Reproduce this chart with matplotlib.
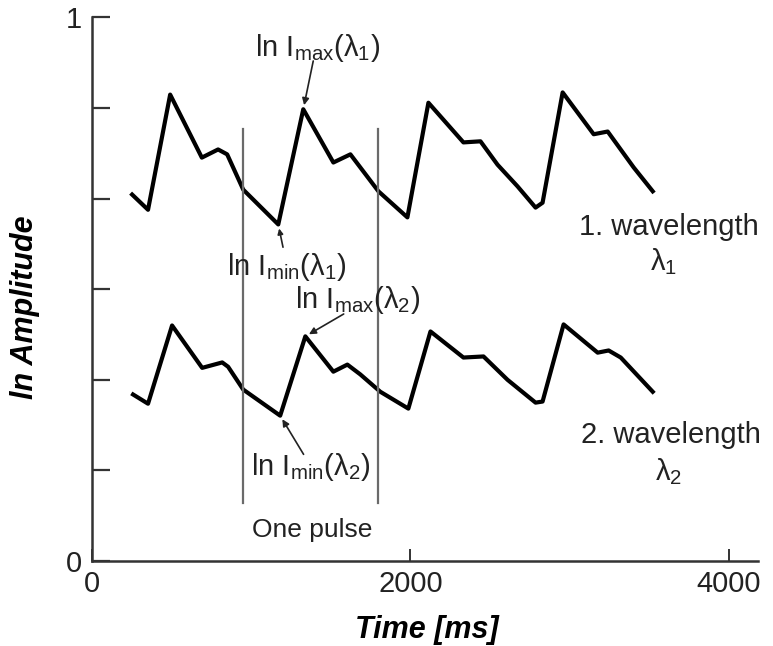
import matplotlib
matplotlib.use("Agg")
import matplotlib.pyplot as plt

plt.rcParams['font.family'] = ['Liberation Sans', 'DejaVu Sans']
plt.rcParams['mathtext.fontset'] = 'custom'
plt.rcParams['mathtext.rm'] = 'Liberation Sans'

# wavelength 1 trace (time in ms, ln amplitude)
t1 = [252, 352, 491, 690, 792, 849, 950, 1170, 1327, 1516, 1623, 1799, 1981,
      2113, 2333, 2440, 2547, 2673, 2786, 2830, 2956, 3151, 3239, 3402, 3522]
a1 = [0.674, 0.646, 0.858, 0.742, 0.757, 0.748, 0.683, 0.619, 0.831, 0.733, 0.748, 0.680, 0.632,
      0.843, 0.770, 0.772, 0.729, 0.689, 0.650, 0.659, 0.862, 0.785, 0.790, 0.724, 0.680]

# wavelength 2 trace
t2 = [258, 352, 503, 692, 818, 855, 950, 1182, 1340, 1516, 1604, 1685, 1811, 1987,
      2126, 2333, 2459, 2610, 2786, 2830, 2962, 3176, 3245, 3321, 3522]
a2 = [0.306, 0.289, 0.433, 0.355, 0.365, 0.357, 0.315, 0.267, 0.413, 0.348, 0.361, 0.343, 0.311, 0.280,
      0.422, 0.374, 0.376, 0.333, 0.291, 0.293, 0.435, 0.383, 0.387, 0.374, 0.311]

pulse_start = 950
pulse_end = 1799
yticks = [0, 1/6, 2/6, 3/6, 4/6, 5/6, 1]
ytick_labels = ['0', '', '', '', '', '', '1']
xticks = [0, 2000, 4000]

fig = plt.figure(figsize=(7.73, 6.46), dpi=100)
ax = fig.add_axes([0.119, 0.132, 0.862, 0.841])

ax.plot(t1, a1, color='black', lw=3, solid_joinstyle='round')
ax.plot(t2, a2, color='black', lw=3, solid_joinstyle='round')

for xv in [pulse_start, pulse_end]:
    ax.plot([xv, xv], [0.107, 0.794], color='#6a6a6a', lw=1.6)

fs = 21
tc = '#222222'
arrow = dict(arrowstyle='-|>', color=tc, lw=1.2, shrinkA=1, shrinkB=3, mutation_scale=10)
ax.annotate(r'ln I$_\mathregular{max}$(λ$_\mathregular{1}$)', xy=(t1[8], a1[8]), xytext=(1415, 0.943),
            ha='center', va='center', fontsize=fs, color=tc,
            arrowprops=dict(arrow, patchA=None, relpos=(0.47, 0.15)))
ax.annotate(r'ln I$_\mathregular{min}$(λ$_\mathregular{1}$)', xy=(t1[7], a1[7]), xytext=(1226, 0.540),
            ha='center', va='center', fontsize=fs, color=tc,
            arrowprops=dict(arrow, mutation_scale=8))
ax.annotate(r'ln I$_\mathregular{max}$(λ$_\mathregular{2}$)', xy=(t2[8], a2[8]), xytext=(1667, 0.479),
            ha='center', va='center', fontsize=fs, color=tc,
            arrowprops=dict(arrow, patchA=None, relpos=(0.4, 0.1)))
ax.annotate(r'ln I$_\mathregular{min}$(λ$_\mathregular{2}$)', xy=(t2[7], a2[7]), xytext=(1371, 0.173),
            ha='center', va='center', fontsize=fs, color=tc,
            arrowprops=dict(arrow, patchA=None, relpos=(0.45, 0.85)))

ax.text(1384, 0.057, 'One pulse', ha='center', va='center', fontsize=19, color=tc)
ax.text(3622, 0.615, '1. wavelength', ha='center', va='center', fontsize=fs, color=tc)
ax.text(3591, 0.551, r'λ$_\mathregular{1}$', ha='center', va='center', fontsize=fs, color=tc)
ax.text(3635, 0.232, '2. wavelength', ha='center', va='center', fontsize=fs, color=tc)
ax.text(3622, 0.164, r'λ$_\mathregular{2}$', ha='center', va='center', fontsize=fs, color=tc)

ax.set_xlim(0, 4185)
ax.set_ylim(0, 1)
ax.set_yticks(yticks)
ax.set_yticklabels(ytick_labels)
ax.set_xticks(xticks)
ax.tick_params(axis='y', direction='in', length=13, width=1.6, color='#333333',
               labelsize=21, labelcolor=tc, pad=7)
ax.tick_params(axis='x', direction='in', length=9, width=1.4, color='#333333',
               labelsize=21, labelcolor=tc, pad=7)
for s in ['top', 'right']:
    ax.spines[s].set_visible(False)
for s in ['left', 'bottom']:
    ax.spines[s].set_linewidth(1.8)
    ax.spines[s].set_color('#333333')

ax.set_xlabel('Time [ms]', fontsize=22, fontweight='bold', fontstyle='italic')
ax.set_ylabel('ln Amplitude', fontsize=22, fontweight='bold', fontstyle='italic')
ax.xaxis.set_label_coords(0.502, -0.1)
ax.yaxis.set_label_coords(-0.078, 0.466)

fig.savefig('out.png')
